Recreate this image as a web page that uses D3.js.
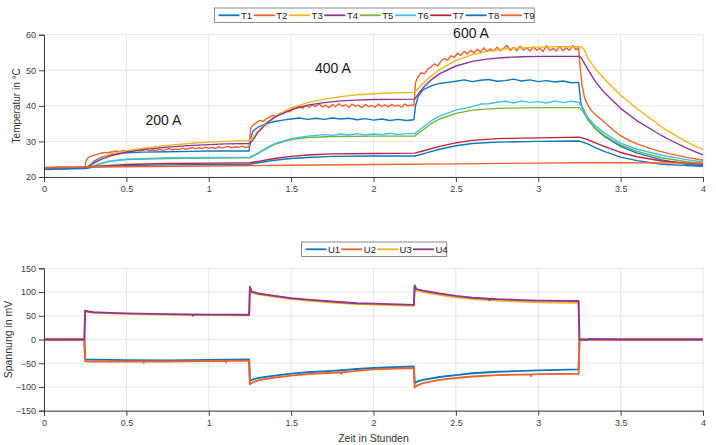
<!DOCTYPE html>
<html>
<head>
<meta charset="utf-8">
<script src="https://cdn.jsdelivr.net/npm/d3@7"></script>
<style>
  body { margin: 0; background: #fff; }
  svg { font-family: "Liberation Sans", Arial, Helvetica, sans-serif; }
</style>
</head>
<body>
<div id="chart"></div>
<script>
// Temperaturen (Zeit in h, Temperatur in °C)
var T1 = [[0,22.2],[0.25,22.6],[0.27,23.0],[0.3,24.3],[0.35,25.6],[0.4,26.3],[0.5,26.8],[0.6,27.0],[0.75,27.1],[0.9,27.2],[1.0,27.3],[1.1,27.3],[1.245,27.3],
  [1.255,31.0],[1.27,33.0],[1.3,34.0],[1.35,35.0],[1.4,35.6],[1.45,36.0],[1.5,36.3],[1.55,36.6],[1.6,36.2],[1.65,36.5],[1.7,36.2],[1.75,36.6],[1.8,36.3],[1.85,36.5],[1.9,36.1],[1.95,36.4],[2.0,36.0],[2.05,36.3],[2.1,35.9],[2.15,36.2],[2.2,35.9],[2.245,36.1],
  [2.255,40.0],[2.27,42.5],[2.3,44.5],[2.35,45.6],[2.4,46.3],[2.45,46.6],[2.5,46.9],[2.55,47.3],[2.6,46.8],[2.65,47.2],[2.7,47.4],[2.75,46.9],[2.8,47.1],[2.85,47.5],[2.9,47.0],[2.95,47.3],[3.0,46.8],[3.05,47.1],[3.1,46.7],[3.15,47.0],[3.2,46.5],[3.245,46.6],
  [3.26,40.5],[3.28,38.0],[3.3,36.2],[3.35,33.4],[3.4,31.5],[3.5,28.6],[3.6,26.7],[3.75,24.8],[3.9,23.6],[4.0,23.1]]
var T2 = [[0,22.7],[0.1,22.8],[0.2,22.85],[0.25,22.9],[0.255,24.6],[0.27,25.5],[0.3,26.1],[0.33,26.5],[0.36,26.8],[0.39,26.9],[0.42,27.1],
  [0.44,27.3],[0.46,27.0],[0.48,27.5],[0.50,27.2],[0.52,27.4],[0.54,27.1],[0.56,27.6],[0.58,27.3],[0.60,27.5],[0.62,27.8],[0.64,27.3],[0.66,27.6],[0.68,27.4],[0.70,27.8],[0.72,27.5],[0.74,27.7],[0.76,28.0],[0.78,27.6],[0.80,27.9],[0.82,27.7],[0.84,28.1],[0.86,27.8],[0.88,28.0],[0.90,28.3],[0.92,27.9],[0.94,28.2],[0.96,28.0],[0.98,28.4],[1.00,28.1],[1.02,28.3],[1.04,28.0],[1.06,28.5],[1.08,28.2],[1.10,28.4],[1.12,28.6],[1.14,28.2],[1.16,28.5],[1.18,28.3],[1.20,28.7],[1.22,28.3],[1.245,28.5],
  [1.255,33.8],[1.27,34.6],[1.29,35.3],[1.31,35.9],[1.33,35.6],[1.35,36.4],[1.37,36.9],[1.39,37.3],[1.41,37.0],[1.43,37.8],[1.45,38.1],[1.47,38.6],[1.49,38.3],[1.51,39.1],[1.53,39.4],[1.55,39.9],[1.57,39.3],[1.59,40.1],[1.61,39.6],[1.63,40.3],[1.65,39.8],[1.67,40.6],[1.69,39.7],[1.71,40.2],[1.73,39.5],[1.75,40.4],[1.77,39.8],[1.79,40.6],[1.81,39.9],[1.83,40.3],[1.85,39.6],[1.87,40.5],[1.89,39.9],[1.91,40.2],[1.93,39.5],[1.95,40.4],[1.97,39.8],[1.99,40.1],[2.01,39.6],[2.03,40.5],[2.05,39.8],[2.07,40.3],[2.09,39.7],[2.11,40.4],[2.13,39.9],[2.15,40.2],[2.17,39.6],[2.19,40.5],[2.21,39.9],[2.23,40.3],[2.245,40.0],
  [2.255,46.5],[2.27,48.2],[2.29,49.3],[2.31,49.0],[2.33,50.4],[2.35,50.9],[2.37,51.8],[2.39,51.2],[2.41,52.6],[2.43,53.3],[2.45,52.8],[2.47,54.1],[2.49,53.6],[2.51,54.8],[2.53,54.2],[2.55,55.3],[2.57,54.6],[2.59,55.6],[2.61,54.9],[2.63,55.9],[2.65,55.1],[2.67,56.3],[2.69,55.3],[2.71,56.0],[2.73,55.4],[2.75,56.5],[2.77,55.5],[2.79,56.2],[2.81,57.0],[2.83,55.6],[2.85,56.4],[2.87,55.5],[2.89,56.8],[2.91,55.7],[2.93,56.3],[2.95,55.4],[2.97,56.6],[2.99,55.6],[3.01,56.2],[3.03,55.3],[3.05,56.9],[3.07,55.6],[3.09,56.1],[3.11,55.4],[3.13,56.7],[3.15,55.5],[3.17,56.3],[3.19,55.6],[3.21,57.0],[3.23,55.7],[3.245,56.4],
  [3.255,50.5],[3.265,46.0],[3.28,42.5],[3.30,40.3],[3.32,38.8],[3.35,37.4],[3.38,36.3],[3.42,34.6],[3.46,33.0],[3.5,31.6],[3.55,30.3],[3.6,29.3],[3.7,27.7],[3.8,26.5],[3.9,25.5],[4.0,24.7]]
var T3 = [[0,22.5],[0.25,22.7],[0.27,23.0],[0.3,24.0],[0.35,25.4],[0.4,26.4],[0.5,27.4],[0.6,28.1],[0.75,28.9],[0.9,29.5],[1.0,29.8],[1.1,30.0],[1.25,30.3],
  [1.27,31.2],[1.3,33.0],[1.35,35.2],[1.4,37.0],[1.5,39.4],[1.6,40.9],[1.7,41.9],[1.8,42.6],[1.9,43.1],[2.0,43.4],[2.1,43.6],[2.25,43.8],
  [2.27,44.8],[2.3,46.3],[2.35,48.4],[2.4,50.2],[2.5,52.8],[2.6,54.4],[2.7,55.4],[2.8,56.0],[2.9,56.3],[3.0,56.5],[3.1,56.6],[3.26,56.6],
  [3.28,55.8],[3.3,53.5],[3.35,50.2],[3.4,47.6],[3.5,43.0],[3.6,39.2],[3.7,35.8],[3.75,34.0],[3.8,32.6],[3.9,29.9],[4.0,27.7]]
var T4 = [[0,22.4],[0.25,22.6],[0.27,22.9],[0.3,23.8],[0.35,25.0],[0.4,25.9],[0.5,27.0],[0.6,27.7],[0.75,28.4],[0.9,28.9],[1.0,29.1],[1.1,29.3],[1.25,29.4],
  [1.27,30.5],[1.3,32.6],[1.35,35.0],[1.4,36.8],[1.5,38.9],[1.6,40.2],[1.7,40.9],[1.8,41.4],[1.9,41.6],[2.0,41.8],[2.25,41.9],
  [2.27,43.2],[2.3,45.0],[2.35,47.3],[2.4,49.0],[2.5,51.2],[2.6,52.5],[2.7,53.2],[2.8,53.6],[2.9,53.8],[3.0,53.9],[3.25,53.9],
  [3.26,53.6],[3.3,50.3],[3.35,46.6],[3.4,43.8],[3.5,39.3],[3.6,35.8],[3.7,33.0],[3.75,31.6],[3.8,30.4],[3.9,28.1],[4.0,26.2]]
var T5 = [[0,22.3],[0.25,22.5],[0.3,23.0],[0.35,23.8],[0.4,24.4],[0.5,24.9],[0.75,25.2],[1.0,25.3],[1.25,25.4],
  [1.3,26.6],[1.35,28.0],[1.4,29.2],[1.5,30.5],[1.6,31.1],[1.75,31.4],[2.0,31.5],[2.25,31.5],
  [2.3,33.2],[2.35,35.0],[2.4,36.3],[2.5,37.9],[2.6,38.8],[2.75,39.3],[3.0,39.5],[3.25,39.5],
  [3.27,38.6],[3.3,36.3],[3.35,33.6],[3.4,31.7],[3.5,29.0],[3.6,27.2],[3.75,25.4],[3.9,24.3],[4.0,23.8]]
var T6 = [[0,22.2],[0.25,22.5],[0.3,23.1],[0.35,23.9],[0.4,24.5],[0.5,25.0],[0.75,25.4],[1.0,25.5],[1.25,25.6],
  [1.3,26.8],[1.35,28.2],[1.4,29.4],[1.5,30.8],[1.6,31.5],[1.7,31.9],[1.75,31.7],[1.8,32.1],[1.85,31.8],[1.9,32.2],[1.95,31.8],[2.0,32.1],[2.05,31.9],[2.1,32.3],[2.15,31.9],[2.2,32.2],[2.25,32.2],
  [2.3,34.0],[2.35,35.8],[2.4,37.1],[2.5,38.8],[2.6,39.8],[2.65,40.5],[2.7,40.6],[2.75,41.0],[2.8,41.3],[2.85,40.8],[2.9,41.4],[2.95,40.9],[3.0,41.2],[3.05,40.8],[3.1,41.4],[3.15,40.9],[3.2,41.3],[3.245,41.0],
  [3.27,39.5],[3.3,36.8],[3.35,34.3],[3.4,32.4],[3.5,29.5],[3.6,27.8],[3.75,26.1],[3.9,24.9],[4.0,24.2]]
var T7 = [[0,22.5],[0.25,22.7],[0.3,23.0],[0.5,23.5],[0.75,23.8],[1.0,23.9],[1.25,24.0],
  [1.3,24.4],[1.4,25.2],[1.5,25.8],[1.6,26.2],[1.75,26.5],[2.0,26.6],[2.25,26.7],
  [2.3,27.3],[2.4,28.6],[2.5,29.6],[2.6,30.3],[2.75,30.8],[3.0,31.0],[3.25,31.2],
  [3.3,30.5],[3.35,29.5],[3.4,28.6],[3.5,26.9],[3.6,25.7],[3.75,24.5],[3.9,23.9],[4.0,23.6]]
var T8 = [[0,22.1],[0.25,22.4],[0.3,22.8],[0.5,23.2],[0.75,23.4],[1.0,23.5],[1.25,23.6],
  [1.3,24.0],[1.4,24.7],[1.5,25.2],[1.6,25.5],[1.75,25.8],[2.0,25.9],[2.25,25.9],
  [2.3,26.5],[2.4,27.8],[2.5,28.8],[2.6,29.4],[2.75,29.8],[3.0,30.0],[3.25,30.1],
  [3.3,29.3],[3.35,28.2],[3.4,27.2],[3.5,25.6],[3.6,24.6],[3.75,23.6],[3.9,23.2],[4.0,23.0]]
var T9 = [[0,22.6],[0.25,22.8],[0.5,22.9],[1.0,23.1],[1.5,23.3],[2.0,23.5],[2.5,23.7],[3.0,23.9],[3.25,24.0],[3.5,24.0],[4.0,23.9]]

// Spannungen (Zeit in h, Spannung in mV)
var U1 = [[0,0],[0.245,0],[0.25,-42],[0.3,-42.5],[0.5,-43.5],[0.75,-44],[1.0,-43],[1.245,-42],
  [1.25,-86],[1.27,-84],[1.3,-81],[1.4,-76],[1.5,-72],[1.6,-69],[1.75,-66],[1.9,-62],[2.0,-60],[2.245,-57],
  [2.25,-92],[2.27,-88],[2.3,-85],[2.4,-79],[2.5,-75],[2.6,-71],[2.75,-68],[3.0,-65],[3.245,-63],
  [3.25,0],[4,0]]
var U2 = [[0,0],[0.245,0],[0.25,-46],[0.3,-46.5],[0.5,-46.5],[0.6,-46.5],[0.605,-49],[0.61,-46.5],[0.75,-46.5],[1.0,-45.5],[1.1,-45],[1.105,-48],[1.11,-45],[1.245,-44.5],
  [1.25,-94],[1.27,-90],[1.3,-86],[1.4,-80],[1.5,-76],[1.6,-73],[1.75,-70],[1.8,-69],[1.805,-72],[1.81,-69],[1.9,-66],[2.0,-63],[2.245,-60],
  [2.25,-101],[2.27,-96],[2.3,-92],[2.4,-85],[2.5,-81],[2.6,-78],[2.75,-75],[2.95,-73.5],[2.955,-77],[2.96,-73.5],[3.0,-73],[3.245,-72],
  [3.25,0],[4,0]]
var U3 = [[0,0],[0.245,0],[0.25,60],[0.27,58],[0.3,56.5],[0.5,54],[0.75,52.5],[1.0,51.5],[1.245,51],
  [1.25,108],[1.26,99],[1.3,95],[1.4,90],[1.5,85.5],[1.6,82],[1.75,78],[1.9,74.5],[2.0,73.5],[2.245,71],
  [2.25,112],[2.26,103],[2.3,100],[2.4,94],[2.5,89],[2.6,85],[2.75,82],[3.0,78.5],[3.245,77.5],
  [3.25,0],[4,0]]
var U4 = [[0,0],[0.245,0],[0.25,61],[0.27,59],[0.3,57.5],[0.4,56],[0.5,55],[0.75,53.5],[0.9,52.8],[0.905,50],[0.91,52.8],[1.0,52.5],[1.245,52],
  [1.25,111],[1.26,101],[1.3,97],[1.4,92],[1.5,87],[1.6,84],[1.75,80],[1.9,76.5],[2.0,75.5],[2.245,73],
  [2.25,114],[2.26,106],[2.3,103],[2.4,97],[2.5,92],[2.6,88],[2.7,86],[2.705,83],[2.71,86],[2.75,85],[2.9,83],[3.0,82],[3.245,81],
  [3.25,0],[3.3,-1],[3.305,1],[3.5,0],[4,0]]

var tempNames = ["T1","T2","T3","T4","T5","T6","T7","T8","T9"]
var tempSeries = [T1,T2,T3,T4,T5,T6,T7,T8,T9]
var voltNames = ["U1","U2","U3","U4"]
var voltSeries = [U1,U2,U3,U4]

var xTicks = [0,0.5,1,1.5,2,2.5,3,3.5,4]
var tempTicks = [20,30,40,50,60]
var voltTicks = [-150,-100,-50,0,50,100,150]

var currentLabels = [{t: 0.725, v: 34.6, text: "200 A"}, {t: 1.754, v: 49.2, text: "400 A"}, {t: 2.592, v: 59.1, text: "600 A"}]

// MATLAB Farben
var blue = "#0a78c2", orange = "#f0622a", yellow = "#f2b51e", purple = "#8e3595",
    green = "#71b33a", cyan = "#40c1ee", red = "#c2203d"
var tempColors = [blue, orange, yellow, purple, green, cyan, red, blue, orange]
var voltColors = [blue, orange, yellow, purple]

var width = 716, height = 445
var left = 44, right = 703

var svg = d3.select("#chart").append("svg")
    .attr("width", width)
    .attr("height", height)

var x = d3.scaleLinear().domain([0, 4]).range([left, right])
var yT = d3.scaleLinear().domain([20, 60]).range([177, 34.7])
var yU = d3.scaleLinear().domain([-150, 150]).range([410.7, 268.3])

function panel (y, yTicks, series, colors, lw) {
    var g = svg.append("g")
    // Gitter
    g.append("g").selectAll("line.gx")
        .data(xTicks)
        .join("line")
        .attr("x1", d => x(d)).attr("x2", d => x(d))
        .attr("y1", y.range()[0]).attr("y2", y.range()[1])
        .attr("stroke", "#e6e6e6").attr("stroke-width", 1)
    g.append("g").selectAll("line.gy")
        .data(yTicks)
        .join("line")
        .attr("x1", left).attr("x2", right)
        .attr("y1", d => y(d)).attr("y2", d => y(d))
        .attr("stroke", "#e6e6e6").attr("stroke-width", 1)

    var line = d3.line()
        .x(d => x(d[0]))
        .y(d => y(d[1]))
    g.append("g").selectAll("path")
        .data(series)
        .join("path")
        .attr("d", d => line(d))
        .attr("fill", "none")
        .attr("stroke", (d, i) => colors[i])
        .attr("stroke-width", lw)
        .attr("stroke-linejoin", "round")

    var xAxis = g.append("g")
        .attr("transform", `translate(0,${y.range()[0]})`)
        .call(d3.axisBottom(x).tickValues(xTicks).tickFormat(d3.format("")).tickSize(5).tickPadding(4))
    var yAxis = g.append("g")
        .attr("transform", `translate(${left},0)`)
        .call(d3.axisLeft(y).tickValues(yTicks).tickFormat(d3.format("")).tickSize(5).tickPadding(3))
    for (var ax of [xAxis, yAxis]) {
        ax.select(".domain").attr("stroke", "#404040")
        ax.selectAll(".tick line").attr("stroke", "#404040")
        ax.selectAll(".tick text").attr("fill", "#404040").attr("font-size", 9)
            .attr("font-family", "'Liberation Sans', Arial, sans-serif")
    }
    return g
}

panel(yT, tempTicks, tempSeries, tempColors, 1.4)
panel(yU, voltTicks, voltSeries, voltColors, 1.9)

svg.selectAll("text.cur")
    .data(currentLabels)
    .join("text")
    .attr("class", "cur")
    .attr("x", d => x(d.t))
    .attr("y", d => yT(d.v))
    .attr("text-anchor", "middle")
    .attr("font-size", 14)
    .attr("fill", "#1a1a1a")
    .text(d => d.text)

// Achsenbeschriftungen
svg.append("text")
    .attr("transform", `translate(20,${yT(40)}) rotate(-90)`)
    .attr("text-anchor", "middle")
    .attr("font-size", 10)
    .attr("fill", "#333")
    .text("Temperatur in °C")
svg.append("text")
    .attr("transform", `translate(12,${yU(0)}) rotate(-90)`)
    .attr("text-anchor", "middle")
    .attr("font-size", 10.5)
    .attr("fill", "#333")
    .text("Spannung in mV")
svg.append("text")
    .attr("x", (left + right) / 2)
    .attr("y", 442)
    .attr("text-anchor", "middle")
    .attr("font-size", 10.5)
    .attr("fill", "#333")
    .text("Zeit in Stunden")

function legend (names, colors, x0, y0, pitch) {
    var g = svg.append("g").attr("transform", `translate(${x0},${y0})`)
    g.append("rect")
        .attr("x", 0).attr("y", 0)
        .attr("width", names.length * pitch + 2).attr("height", 14.5)
        .attr("fill", "#fff").attr("stroke", "#8c8c8c").attr("stroke-width", 1)
    var item = g.selectAll("g.item")
        .data(names)
        .join("g")
        .attr("transform", (d, i) => `translate(${4 + i * pitch},0)`)
    item.append("line")
        .attr("x1", 0).attr("x2", 21)
        .attr("y1", 7.3).attr("y2", 7.3)
        .attr("stroke", (d, i) => colors[i]).attr("stroke-width", 1.8)
    item.append("text")
        .attr("x", 22.5).attr("y", 10.5)
        .attr("font-size", 9.5)
        .attr("fill", "#222")
        .text(d => d)
}

legend(tempNames, tempColors, 214.5, 8, 35.3)
legend(voltNames, voltColors, 301.5, 242, 35.8)
</script>
</body>
</html>
